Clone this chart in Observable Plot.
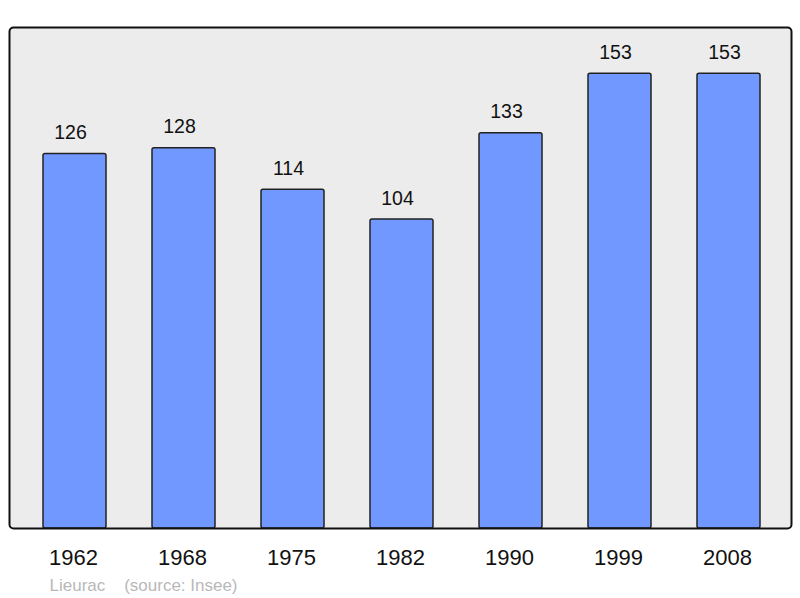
<!DOCTYPE html>
<html>
<head>
<meta charset="utf-8">
<script src="https://cdn.jsdelivr.net/npm/d3@7"></script>
<script src="https://cdn.jsdelivr.net/npm/@observablehq/plot@0.6"></script>
<style>
  html, body { margin: 0; padding: 0; background: #fff; }
  #chart svg { display: block; }
</style>
</head>
<body>
<div id="chart"></div>
<script>
const years = ["1962", "1968", "1975", "1982", "1990", "1999", "2008"];
const population = [126, 128, 114, 104, 133, 153, 153];
const captionText = "Lieurac\u00a0\u00a0\u00a0\u00a0(source: Insee)";

const data = years.map((y, i) => ({year: y, value: population[i]}));

const chart = Plot.plot({
  width: 800,
  height: 598,
  marginLeft: 9,
  marginRight: 9,
  marginTop: 27,
  marginBottom: 70,
  style: {fontFamily: "'Liberation Sans', Arial, sans-serif", background: "#fff"},
  x: {domain: years, range: [41.5, 760.5], paddingInner: 0.424, paddingOuter: 0, label: null},
  y: {domain: [0, 168.6], axis: null},
  marks: [
    Plot.frame({fill: "#ececec", stroke: null, rx: 4}),
    Plot.barY(data, {x: "year", y: "value", fill: "#7098ff", stroke: "#222", strokeWidth: 1.5, rx: 2}),
    Plot.text(data, {x: "year", y: "value", text: d => String(d.value), dy: -21.2, dx: -4.5, fontSize: 19.5, fill: "#111"}),
    Plot.axisX({tickSize: 0, tickPadding: 21, dx: -1.5, fontSize: 22, fill: "#111"}),
    Plot.frame({stroke: "#111", strokeWidth: 2, rx: 4}),
    Plot.text([captionText], {frameAnchor: "bottom-left", dx: 40, dy: 62.5, text: d => d, fontSize: 17, fill: "#b8b8b8", textAnchor: "start"})
  ]
});
document.getElementById("chart").appendChild(chart);
</script>
</body>
</html>
